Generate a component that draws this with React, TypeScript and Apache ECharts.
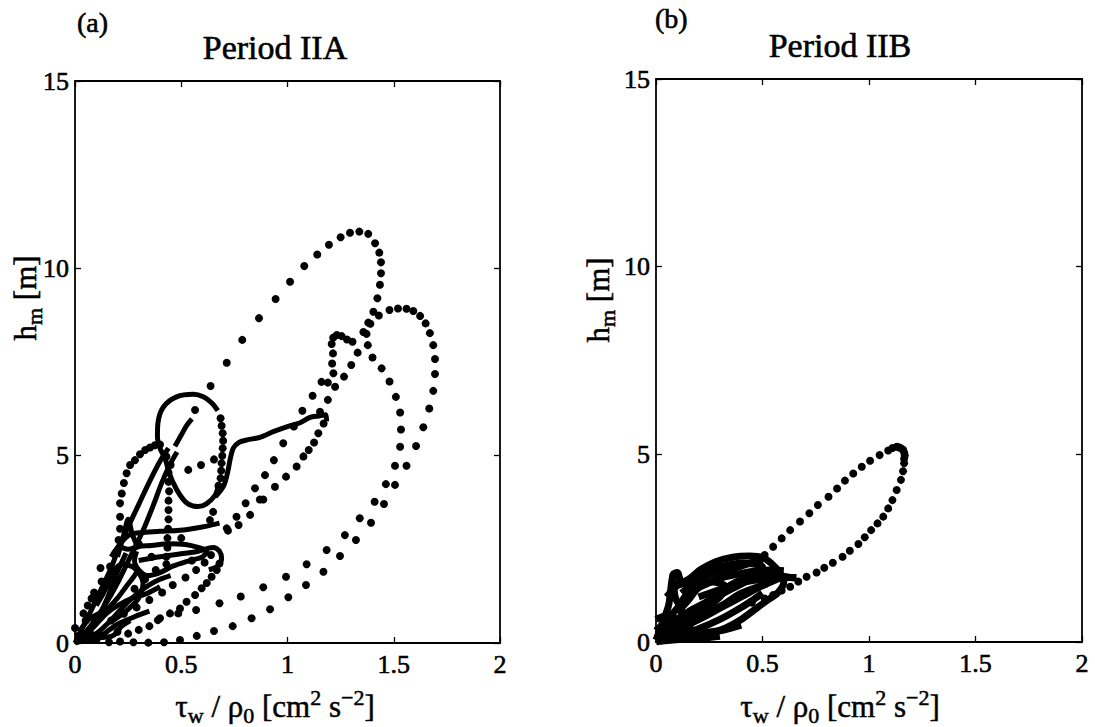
import React, { useEffect, useRef } from "react";
import * as echarts from "echarts";

// ---------- tick labels ----------
const X_TICKS = [0, 0.5, 1, 1.5, 2];
const Y_TICKS = [0, 5, 10, 15];

// ---------- Panel (a) Period IIA : dotted trajectories ----------
const A_TOP_LOOP = [
  [0.565, 6.22], [0.638, 6.86], [0.714, 7.48], [0.787, 8.09], [0.866, 8.67], [0.944, 9.18],
  [1.012, 9.64], [1.079, 10.06], [1.14, 10.37], [1.195, 10.63], [1.25, 10.83], [1.294, 10.95],
  [1.338, 10.98], [1.38, 10.92], [1.412, 10.67], [1.432, 10.42], [1.44, 10.16], [1.44, 9.87],
  [1.435, 9.56], [1.423, 9.2], [1.404, 8.84], [1.38, 8.55], [1.357, 8.3], [1.33, 7.75],
  [1.3, 7.42], [1.266, 7.11], [1.224, 6.84], [1.19, 6.49], [1.153, 6.17],
];
const A_SECOND_LOOP = [
  [0.4, 0.66], [0.486, 0.79], [0.57, 0.88], [0.68, 1.06], [0.78, 1.24], [0.886, 1.49],
  [0.993, 1.77], [1.09, 2.1], [1.184, 2.48], [1.27, 2.88], [1.34, 3.33], [1.41, 3.77],
  [1.463, 4.24], [1.506, 4.73], [1.53, 5.24], [1.534, 5.7], [1.53, 6.15], [1.51, 6.57],
  [1.48, 6.98], [1.443, 7.33], [1.4, 7.62], [1.378, 7.95], [1.372, 8.25], [1.39, 8.52],
  [1.43, 8.74], [1.48, 8.89], [1.52, 8.93], [1.56, 8.92], [1.592, 8.86], [1.624, 8.73],
  [1.65, 8.53], [1.67, 8.27], [1.686, 7.95], [1.694, 7.58], [1.694, 7.18], [1.686, 6.73],
  [1.667, 6.26], [1.639, 5.76], [1.605, 5.26], [1.56, 4.73], [1.506, 4.22], [1.454, 3.71],
  [1.393, 3.21], [1.322, 2.75], [1.247, 2.32], [1.169, 1.9], [1.087, 1.55], [1.004, 1.22],
  [0.918, 0.9], [0.831, 0.66], [0.742, 0.45], [0.654, 0.32], [0.573, 0.19], [0.494, 0.08],
  [0.419, 0.02], [0.345, 0.01], [0.275, 0.02], [0.212, 0.04],
];
const A_HOOK = [
  [1.306, 8.04], [1.28, 8.1], [1.255, 8.19], [1.232, 8.22], [1.215, 8.15], [1.208, 7.98],
  [1.214, 7.73], [1.21, 7.46], [1.216, 7.2], [1.19, 6.95],
];
const A_MID_LEFT = [
  [1.16, 6.97], [1.118, 6.6], [1.07, 6.2], [1.03, 5.78], [0.98, 5.33], [0.936, 4.88],
  [0.894, 4.48], [0.847, 4.13], [0.803, 3.73], [0.76, 3.37], [0.714, 3.06],
];
const A_MID_RIGHT = [
  [1.17, 5.86], [1.145, 5.6], [1.125, 5.35], [1.1, 5.15], [1.075, 4.98], [1.043, 4.71],
  [0.993, 4.44], [0.941, 4.17], [0.886, 3.83], [0.87, 3.83], [0.824, 3.42], [0.77, 3.15], [0.72, 3.0],
];
const A_ELLIPSE_RIGHT = [
  [0.685, 6.0], [0.69, 5.8], [0.695, 5.6], [0.697, 5.4], [0.695, 5.2], [0.693, 5.0],
  [0.69, 4.8], [0.688, 4.6], [0.685, 4.4], [0.675, 4.2],
];
const A_OUTER_LEFT = [
  [0.0, 0.4], [0.04, 0.79], [0.078, 1.19], [0.125, 1.64], [0.165, 2.04], [0.19, 2.4],
  [0.205, 2.75], [0.212, 3.05], [0.212, 3.37], [0.212, 3.73], [0.22, 3.99], [0.23, 4.27],
  [0.243, 4.53], [0.259, 4.75], [0.282, 4.88], [0.306, 5.04], [0.33, 5.15], [0.353, 5.22],
  [0.376, 5.28], [0.4, 5.3],
];
const A_VERTICAL = [
  [0.44, 4.55], [0.44, 4.3], [0.443, 4.05], [0.44, 3.8], [0.44, 3.55], [0.44, 3.3],
  [0.438, 3.05], [0.435, 2.8], [0.435, 2.55], [0.43, 2.3], [0.43, 2.1],
];
const A_CENTER = [
  [0.533, 4.62], [0.593, 4.75], [0.654, 4.9], [0.65, 3.5], [0.635, 3.28], [0.43, 4.98], [0.45, 4.75],
];
const A_INNER = [
  [0.39, 0.61], [0.447, 0.79], [0.494, 0.92], [0.525, 1.1], [0.565, 1.28], [0.596, 1.46],
  [0.62, 1.6], [0.643, 1.77], [0.667, 1.95], [0.68, 2.12],
];
const A_INNER2 = [
  [0.17, 0.6], [0.23, 0.78], [0.29, 0.95], [0.35, 1.15], [0.41, 1.35], [0.46, 1.55],
  [0.52, 1.75], [0.57, 1.95], [0.61, 2.15], [0.64, 2.35],
];
const A_LOWLEFT = [
  [0.1, 0.08], [0.13, 0.2], [0.06, 1.0], [0.09, 1.35], [0.12, 2.0], [0.3, 0.35],
  [0.25, 0.25], [0.35, 0.45], [0.28, 1.45], [0.33, 1.7], [0.38, 1.95], [0.16, 0.02],
  [0.2, 0.3], [0.05, 0.6], [0.15, 1.55], [0.36, 2.3], [0.3, 2.65], [0.5, 2.8], [0.55, 2.2],
];

// ---------- Panel (a): dense (solid-looking) trajectories ----------
const A_ELLIPSE = [
  [0.675, 4.2], [0.66, 3.95], [0.62, 3.72], [0.58, 3.64], [0.53, 3.72], [0.494, 3.95],
  [0.46, 4.3], [0.44, 4.6], [0.425, 4.9], [0.4, 5.2], [0.388, 5.5], [0.39, 5.86],
  [0.416, 6.3], [0.478, 6.57], [0.557, 6.64], [0.604, 6.57], [0.645, 6.4], [0.672, 6.2],
];
const A_ARM = [
  [0.66, 3.9], [0.7, 4.2], [0.72, 4.6], [0.73, 4.9], [0.745, 5.2], [0.77, 5.35],
  [0.81, 5.42], [0.87, 5.49], [0.933, 5.64], [0.996, 5.77], [1.059, 5.88], [1.106, 6.02],
  [1.145, 6.06], [1.18, 6.09], [1.184, 5.92],
];
const A_STUB = [[0.47, 5.25], [0.5, 5.55], [0.525, 5.8], [0.55, 5.98]];
const A_LOBE1 = [
  [0.0, 0.0], [0.03, 0.35], [0.07, 0.8], [0.12, 1.4], [0.17, 2.0], [0.21, 2.6],
  [0.25, 3.1], [0.3, 3.7], [0.35, 4.3], [0.4, 4.85], [0.44, 5.2],
];
const A_LOBE2 = [
  [0.02, 0.1], [0.08, 0.5], [0.14, 1.0], [0.2, 1.6], [0.26, 2.3], [0.32, 3.0],
  [0.37, 3.7], [0.41, 4.3], [0.45, 4.8], [0.48, 5.1],
];
const A_LOOP_LOW = [
  [0.2, 2.6], [0.25, 2.5], [0.3, 2.58], [0.36, 2.6], [0.44, 2.65], [0.52, 2.63],
  [0.58, 2.55], [0.62, 2.45], [0.6, 2.3], [0.54, 2.2], [0.46, 2.05], [0.4, 1.88],
  [0.34, 1.8], [0.3, 1.95], [0.28, 2.2], [0.29, 2.45],
];
const A_TIP = [
  [0.17, 2.3], [0.22, 2.7], [0.26, 2.9], [0.32, 2.95], [0.4, 2.98], [0.48, 3.0],
  [0.55, 3.05], [0.62, 3.12], [0.68, 3.2],
];
const A_CURL = [
  [0.3, 2.2], [0.4, 2.3], [0.5, 2.38], [0.58, 2.45], [0.65, 2.55], [0.68, 2.45],
  [0.69, 2.25], [0.67, 2.05], [0.63, 1.95],
];
const A_SPIKE = [[0.2, 2.3], [0.23, 2.9], [0.25, 3.3], [0.27, 2.9], [0.3, 2.5]];
const A_MASS1 = [
  [0.0, 0.0], [0.05, 0.1], [0.1, 0.25], [0.15, 0.5], [0.2, 0.8], [0.25, 1.1],
  [0.3, 1.35], [0.35, 1.55], [0.4, 1.7], [0.45, 1.8],
];
const A_MASS2 = [
  [0.02, 0.3], [0.06, 0.6], [0.1, 0.75], [0.15, 0.9], [0.2, 1.2], [0.24, 1.5],
  [0.28, 1.8], [0.3, 2.0],
];
const A_MASS3 = [[0.05, 0.05], [0.1, 0.08], [0.15, 0.3], [0.2, 0.5], [0.28, 0.7], [0.35, 0.85]];
const A_MASS4 = [[0.03, 0.1], [0.08, 0.4], [0.12, 0.8], [0.16, 1.3], [0.2, 1.9], [0.24, 2.4]];
const A_MASS5 = [
  [0.1, 1.0], [0.15, 1.5], [0.18, 1.9], [0.22, 2.1], [0.28, 2.0], [0.32, 1.6],
  [0.3, 1.2], [0.25, 0.9], [0.18, 0.6],
];
const A_MASS6 = [[0.05, 0.2], [0.1, 0.5], [0.15, 0.8], [0.2, 1.0], [0.27, 1.2], [0.33, 1.3], [0.4, 1.5]];
const A_MASS7 = [[0.0, 0.2], [0.06, 0.3], [0.12, 0.15], [0.18, 0.2], [0.22, 0.45], [0.26, 0.6]];

// ---------- Panel (b) Period IIB ----------
const B_LOOP_DOTS = [
  [0.45, 1.05], [0.51, 1.16], [0.55, 1.25], [0.59, 1.37], [0.63, 1.47], [0.668, 1.61],
  [0.707, 1.74], [0.754, 1.85], [0.79, 1.98], [0.83, 2.11], [0.876, 2.27], [0.91, 2.43],
  [0.95, 2.61], [0.98, 2.79], [1.01, 2.98], [1.04, 3.16], [1.067, 3.34], [1.09, 3.56],
  [1.11, 3.78], [1.13, 4.05], [1.15, 4.32], [1.16, 4.55], [1.165, 4.76], [1.165, 4.88],
  [1.168, 4.97], [1.165, 5.05], [1.16, 5.12], [1.15, 5.16], [1.14, 5.19], [1.13, 5.2],
  [1.11, 5.17], [1.09, 5.1], [1.05, 4.98], [1.005, 4.83], [0.966, 4.67], [0.926, 4.49],
  [0.887, 4.3], [0.85, 4.09], [0.81, 3.87], [0.76, 3.65], [0.72, 3.43], [0.676, 3.21],
  [0.63, 2.98], [0.59, 2.76], [0.55, 2.54], [0.51, 2.32],
];
const B_S1 = [
  [0.0, 0.05], [0.03, 0.5], [0.06, 1.0], [0.08, 1.8], [0.1, 1.85], [0.12, 1.6], [0.16, 1.7],
  [0.21, 1.93], [0.28, 2.14], [0.36, 2.26], [0.44, 2.29], [0.5, 2.25], [0.54, 2.1],
  [0.58, 1.85], [0.6, 1.6], [0.57, 1.3], [0.52, 1.1], [0.46, 0.85], [0.4, 0.6],
  [0.33, 0.38], [0.25, 0.22], [0.17, 0.12], [0.08, 0.05], [0.02, 0.02],
];
const B_S2 = [
  [0.05, 0.2], [0.12, 0.5], [0.2, 0.9], [0.28, 1.25], [0.36, 1.55], [0.45, 1.75],
  [0.55, 1.78], [0.65, 1.7],
];
const B_S3 = [
  [0.02, 0.4], [0.1, 0.9], [0.15, 1.3], [0.22, 1.5], [0.3, 1.7], [0.38, 1.8],
  [0.47, 1.9], [0.55, 1.92], [0.6, 1.9],
];
const B_S4 = [
  [0.04, 0.1], [0.1, 0.3], [0.18, 0.55], [0.26, 0.8], [0.33, 1.05], [0.4, 1.3],
  [0.47, 1.45], [0.52, 1.55],
];
const B_S5 = [
  [0.1, 0.8], [0.15, 1.1], [0.2, 1.45], [0.27, 1.6], [0.33, 1.45], [0.3, 1.2],
  [0.25, 0.95], [0.2, 0.7], [0.15, 0.5],
];
const B_S6 = [[0.0, 0.6], [0.05, 0.7], [0.1, 0.6], [0.15, 0.4], [0.2, 0.25], [0.3, 0.3], [0.4, 0.45]];
const B_S7 = [[0.0, 0.3], [0.05, 0.5], [0.1, 0.4], [0.2, 0.6], [0.3, 0.9], [0.4, 1.2], [0.5, 1.5], [0.58, 1.7]];
const B_S8 = [
  [0.05, 1.2], [0.1, 1.5], [0.15, 1.6], [0.2, 1.8], [0.3, 2.0], [0.4, 2.1], [0.5, 2.0],
  [0.45, 1.7], [0.35, 1.4], [0.25, 1.1], [0.15, 0.8], [0.05, 0.4],
];
const B_S9 = [[0.0, 0.0], [0.1, 0.15], [0.2, 0.35], [0.3, 0.6], [0.38, 0.85], [0.45, 1.1], [0.5, 1.3]];
const B_S10 = [[0.08, 1.8], [0.09, 1.2], [0.12, 0.8], [0.1, 0.4], [0.05, 0.15]];
const B_S11 = [[0.2, 1.2], [0.3, 1.4], [0.4, 1.58], [0.5, 1.68], [0.6, 1.72], [0.66, 1.72]];
const B_S12 = [[0.02, 0.05], [0.06, 0.4], [0.12, 0.2], [0.2, 0.1], [0.3, 0.15]];
const B_S13 = [[0.12, 1.3], [0.2, 1.65], [0.28, 1.85], [0.36, 1.95], [0.44, 2.1], [0.5, 2.2]];

const A_DOTTED = [
  A_TOP_LOOP, A_SECOND_LOOP, A_HOOK, A_MID_LEFT, A_MID_RIGHT, A_ELLIPSE_RIGHT,
  A_OUTER_LEFT, A_VERTICAL, A_CENTER, A_INNER, A_INNER2, A_LOWLEFT,
];
const A_SOLID = [
  A_ELLIPSE, A_ARM, A_STUB, A_LOBE1, A_LOBE2, A_LOOP_LOW, A_TIP, A_CURL, A_SPIKE,
  A_MASS1, A_MASS2, A_MASS3, A_MASS4, A_MASS5, A_MASS6, A_MASS7,
];
const B_DOTTED = [B_LOOP_DOTS];
const B_SOLID = [B_S1, B_S2, B_S3, B_S4, B_S5, B_S6, B_S7, B_S8, B_S9, B_S10, B_S11, B_S12, B_S13];

const FONT = "'Liberation Serif', 'Times New Roman', serif";
const HEAVY = { textBorderColor: "#000", textBorderWidth: 0.6 };

function axisPair(gridIndex: number, kind: "x" | "y") {
  const isX = kind === "x";
  const ticks = isX ? X_TICKS : Y_TICKS;
  const base = {
    gridIndex,
    type: "value" as const,
    min: ticks[0],
    max: ticks[ticks.length - 1],
    interval: ticks[1] - ticks[0],
    splitLine: { show: false },
    axisLine: { show: true, onZero: false, lineStyle: { color: "#000", width: 1.8 } },
    axisTick: { show: true, inside: true, length: 6, lineStyle: { color: "#000", width: 1.3 } },
  };
  const main = {
    ...base,
    position: isX ? "bottom" : "left",
    axisLabel: {
      show: true,
      color: "#000",
      fontFamily: FONT,
      fontSize: 26,
      margin: isX ? 8 : 6,
      ...HEAVY,
      formatter: (v: number) => String(v),
    },
  };
  const mirror = {
    ...base,
    position: isX ? "top" : "right",
    axisLabel: { show: false },
  };
  return [main, mirror];
}

function buildSeries(list: number[][][], xi: number, yi: number, dotted: boolean, w = 5) {
  return list.map((data) =>
    dotted
      ? {
          type: "scatter",
          xAxisIndex: xi,
          yAxisIndex: yi,
          data,
          symbol: "circle",
          symbolSize: 8,
          itemStyle: { color: "#000", opacity: 1 },
          silent: true,
        }
      : {
          type: "line",
          xAxisIndex: xi,
          yAxisIndex: yi,
          data,
          showSymbol: false,
          smooth: 0.3,
          lineStyle: { color: "#000", width: w, opacity: 1 },
          silent: true,
        }
  );
}

const STROKE = { stroke: "#000", lineWidth: 0.5 };
const rich = {
  s: { fontSize: 22, fontFamily: FONT, fill: "#000", verticalAlign: "bottom" as const, lineHeight: 40, ...STROKE },
  p: { fontSize: 22, fontFamily: FONT, fill: "#000", verticalAlign: "top" as const, lineHeight: 40, ...STROKE },
  n: { fontSize: 31, fontFamily: FONT, fill: "#000", lineHeight: 40, ...STROKE },
};

export default function App() {
  const ref = useRef<HTMLDivElement>(null);
  useEffect(() => {
    if (!ref.current) return;
    const chart = echarts.init(ref.current, undefined, { renderer: "svg" });
    const [xa, xat] = axisPair(0, "x");
    const [ya, yar] = axisPair(0, "y");
    const [xb, xbt] = axisPair(1, "x");
    const [yb, ybr] = axisPair(1, "y");
    const xLabel = "{n|τ}{s|w}{n| / ρ}{s|0}{n| [cm}{p|2}{n| s}{p|−2}{n|]}";
    const yLabel = "{n|h}{s|m}{n| [m]}";
    const richText = (x: number, y: number, text: string, rot = 0) => ({
      type: "text",
      x,
      y,
      rotation: rot,
      silent: true,
      style: {
        text,
        rich,
        fill: "#000",
        fontFamily: FONT,
        fontSize: 31,
        align: "center",
        verticalAlign: "middle",
      },
    });
    const plain = (x: number, y: number, text: string, size: number, align: string) => ({
      type: "text",
      x,
      y,
      silent: true,
      style: {
        text,
        fill: "#000",
        fontFamily: FONT,
        fontSize: size,
        align,
        verticalAlign: "middle",
        stroke: "#000",
        lineWidth: 0.6,
      },
    });
    chart.setOption({
      animation: false,
      backgroundColor: "#fff",
      grid: [
        { left: 75, top: 81, width: 425, height: 562 },
        { left: 656, top: 79, width: 426, height: 563 },
      ],
      xAxis: [xa, xat, xb, xbt],
      yAxis: [ya, yar, yb, ybr],
      series: [
        ...buildSeries(A_DOTTED, 0, 0, true),
        ...buildSeries(A_SOLID, 0, 0, false, 5),
        ...buildSeries(B_DOTTED, 2, 2, true),
        ...buildSeries(B_SOLID, 2, 2, false, 7),
      ],
      graphic: [
        plain(77, 22, "(a)", 28, "left"),
        plain(655, 18, "(b)", 28, "left"),
        plain(275, 47, "Period IIA", 34, "center"),
        plain(840, 45, "Period IIB", 34, "center"),
        richText(275, 706, xLabel),
        richText(840, 706, xLabel),
        richText(25, 298, yLabel, Math.PI / 2),
        richText(598, 300, yLabel, Math.PI / 2),
      ],
    });
    return () => chart.dispose();
  }, []);
  return (
    <div
      ref={ref}
      style={{ position: "absolute", left: 0, top: 0, width: 1095, height: 727, background: "#fff" }}
    />
  );
}
